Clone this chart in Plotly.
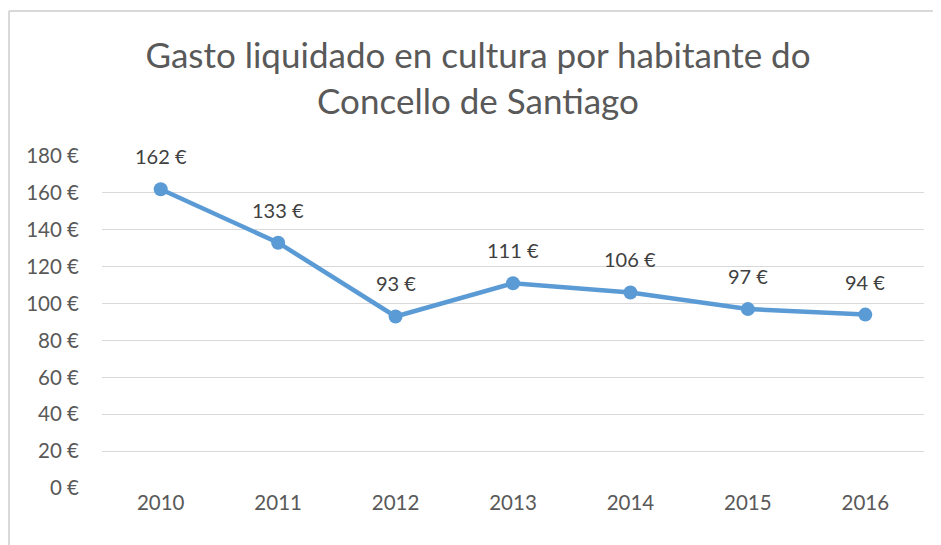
import plotly.graph_objects as go

years = ["2010", "2011", "2012", "2013", "2014", "2015", "2016"]
values = [162, 133, 93, 111, 106, 97, 94]
y_ticks = [0, 20, 40, 60, 80, 100, 120, 140, 160, 180]
y_tick_labels = [f"{v} €" for v in y_ticks]
title_text = "Gasto liquidado en cultura por habitante do<br>Concello de Santiago"

OFF = 8  # page body margin
W, H = 941 - OFF, 545 - OFF
L, R, T, B = 102 - OFF, 17, 156 - OFF, 57
FONT = "Lato, 'Open Sans', sans-serif"
TXT = "#595959"
BLUE = "#5B9BD5"

fig = go.Figure()
fig.add_trace(go.Scatter(
    x=years, y=values, mode="lines+markers",
    line=dict(color=BLUE, width=4.5),
    marker=dict(color=BLUE, size=14),
    hoverinfo="skip", showlegend=False,
))

for i, yv in enumerate(values):
    fig.add_annotation(x=i, y=yv, xref="x", yref="y", text=f"{yv} €",
                       showarrow=False, yshift=33,
                       font=dict(family=FONT, size=20, color="#404040"))

pw = W - L - R
ph = H - T - B
# chart border (left and top), cropped picture
ytop = (H - B - (11 - OFF)) / ph
xleft = ((9 - OFF) - L) / pw
fig.add_shape(type="line", xref="paper", yref="paper",
              x0=xleft, x1=(W + 10 - L) / pw, y0=ytop, y1=ytop,
              line=dict(color="#D9D9D9", width=2))
fig.add_shape(type="line", xref="paper", yref="paper",
              x0=xleft, x1=xleft, y0=ytop, y1=-(B + 5) / ph,
              line=dict(color="#D9D9D9", width=2))

fig.update_layout(
    width=W, height=H,
    margin=dict(l=L, r=R, t=T, b=B),
    paper_bgcolor="white", plot_bgcolor="white",
    title=dict(text=title_text, x=(478 - OFF) / W, xref="container", xanchor="center",
               y=1 - (68 - OFF) / H, yanchor="top",
               font=dict(family=FONT, size=35, color=TXT)),
    xaxis=dict(type="category", range=[-0.5, 6.5], showgrid=False,
               showline=False, ticks="", zeroline=False,
               tickfont=dict(family=FONT, size=20.5, color=TXT)),
    yaxis=dict(range=[0, 180], tickvals=y_ticks, ticktext=y_tick_labels,
               showgrid=True, gridcolor="#D9D9D9", gridwidth=1.3,
               zeroline=False, showline=False, ticks="", ticklabelstandoff=22,
               tickfont=dict(family=FONT, size=20.5, color=TXT)),
)

fig.write_html("out.html")
